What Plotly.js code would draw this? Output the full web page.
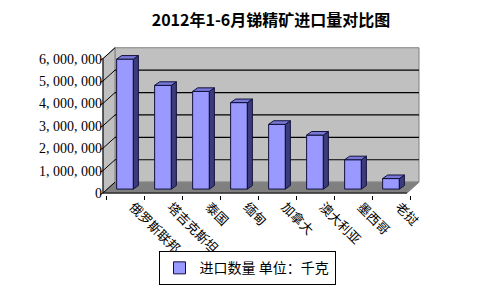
<!DOCTYPE html>
<html>
<head>
<meta charset="utf-8">
<script src="https://cdn.plot.ly/plotly-3.0.1.min.js"></script>
<style>html,body{margin:0;padding:0;background:#fff;}#chart{width:498px;height:297px;}</style>
</head>
<body>
<div id="chart"></div>
<script>
// ---- data ----
const categories = ['俄罗斯联邦','塔吉克斯坦','泰国','缅甸','加拿大','澳大利亚','墨西哥','老挝'];
const importQty = [5800000, 4630000, 4360000, 3860000, 2890000, 2410000, 1310000, 470000];
const seriesName = '进口数量 单位：千克';
const yTickVals = [0, 1000000, 2000000, 3000000, 4000000, 5000000, 6000000];
const yTickText = ['0', '1, 000, 000', '2, 000, 000', '3, 000, 000', '4, 000, 000', '5, 000, 000', '6, 000, 000'];
const chartTitle = '2012年1-6月锑精矿进口量对比图';

// ---- geometry (pseudo 3D in axis units) ----
const PXX = 38, PXY = 22.7 / 1e6;           // px per category, px per unit
const FX = -0.5 - 3 / PXX;                   // front-left x
const FR = FX + categories.length;           // front-right x
const FY = -4 / PXY;                         // front floor level
const DX = 12 / PXX, DY = 11 / PXY;          // wall depth
const BX = FX + DX, BR = FR + DX, BY = FY + DY;
const TOP = yTickVals[yTickVals.length - 1];
const BW = 0.44, SX = 5 / PXX, SY = 3.6 / PXY;

const shapes = [];
const P = (pts) => 'M' + pts.map(p => p[0] + ',' + p[1]).join(' L') + ' Z';
// back wall
shapes.push({type:'path', xref:'x', yref:'y', layer:'below', path:P([[BX,BY],[BR,BY],[BR,BY+TOP],[BX,BY+TOP]]), fillcolor:'#C0C0C0', line:{color:'#808080', width:1}});
// left wall
shapes.push({type:'path', xref:'x', yref:'y', layer:'below', path:P([[FX,FY],[FX,FY+TOP],[BX,BY+TOP],[BX,BY]]), fillcolor:'#C0C0C0', line:{color:'#808080', width:1}});
// floor
shapes.push({type:'path', xref:'x', yref:'y', layer:'below', path:P([[FX,FY],[FR,FY],[BR,BY],[BX,BY]]), fillcolor:'#808080', line:{color:'#808080', width:1}});
// gridlines
yTickVals.forEach((v, k) => {
  if (k > 0 && k < yTickVals.length - 1) {
    shapes.push({type:'line', xref:'x', yref:'y', layer:'below', x0:BX, x1:BR, y0:BY+v, y1:BY+v, line:{color:'#000', width:1.2}});
  }
  shapes.push({type:'line', xref:'x', yref:'y', layer:'below', x0:FX, x1:BX, y0:FY+v, y1:BY+v, line:{color:'#000', width:1}});
  shapes.push({type:'line', xref:'x', yref:'y', layer:'below', x0:FX-4/PXX, x1:FX, y0:FY+v-2/PXY, y1:FY+v, line:{color:'#000', width:1}});
});
// front axis and front floor edge
shapes.push({type:'line', xref:'x', yref:'y', layer:'above', x0:FX, x1:FX, y0:FY, y1:FY+TOP, line:{color:'#000', width:1}});
shapes.push({type:'line', xref:'x', yref:'y', layer:'above', x0:FX, x1:FR, y0:FY, y1:FY, line:{color:'#000', width:1}});
// bar sides and tops
importQty.forEach((v, i) => {
  const r = i + BW / 2, l = i - BW / 2;
  shapes.push({type:'path', xref:'x', yref:'y', layer:'above', path:P([[r,0],[r,v],[r+SX,v+SY],[r+SX,SY]]), fillcolor:'#3C3C7A', line:{color:'#10103a', width:1}});
  shapes.push({type:'path', xref:'x', yref:'y', layer:'above', path:P([[l,v],[r,v],[r+SX,v+SY],[l+SX,v+SY]]), fillcolor:'#7878D8', line:{color:'#10103a', width:1}});
});

const trace = {
  type: 'bar',
  x: categories.map((c, i) => i),
  y: importQty,
  name: seriesName,
  width: BW,
  marker: {color: '#9999FF', line: {color: '#10103a', width: 1}},
  showlegend: true,
  hoverinfo: 'none'
};

const L = 100, R = 424, T = 44, B = 197;
const layout = {
  width: 498, height: 297,
  margin: {l: L, r: 498 - R, t: T, b: 297 - B, pad: 0},
  paper_bgcolor: '#fff', plot_bgcolor: 'rgba(0,0,0,0)',
  title: {text: '<b>' + chartTitle + '</b>', x: 271/498, xanchor: 'center', y: 1 - 20/297, yanchor: 'middle',
          font: {family: '"Noto Sans CJK SC", sans-serif', size: 16, color: '#000'}},
  xaxis: {
    range: [FX - 3/PXX, FX - 3/PXX + (R - L) / PXX], fixedrange: true,
    tickvals: categories.map((c, i) => i), ticktext: categories, tickangle: 45,
    ticks: '', showgrid: false, zeroline: false, showline: false,
    ticklabelshift: 8, ticklabelstandoff: 1,
    tickfont: {family: '"Noto Sans CJK SC", sans-serif', size: 13, color: '#000'},
    minor: {tick0: 0.5, dtick: 1, ticks: 'outside', ticklen: 4, tickcolor: '#000', showgrid: false}
  },
  yaxis: {
    range: [-(B - 191) / (22.7) * 1e6, (191 - T) / 22.7 * 1e6], fixedrange: true,
    tickvals: yTickVals, ticktext: yTickText, ticks: '', showgrid: false, zeroline: false, showline: false,
    ticklabelshift: 4, ticklabelstandoff: -3,
    tickfont: {family: '"Liberation Serif", serif', size: 14, color: '#000'}
  },
  shapes: shapes,
  showlegend: true,
  legend: {orientation: 'h', x: (247 - L) / (R - L), xanchor: 'center', y: -(254 - B) / (B - T), yanchor: 'top',
           bordercolor: '#000', borderwidth: 1, bgcolor: '#fff',
           font: {family: '"Noto Sans CJK SC", sans-serif', size: 14, color: '#000'}},
  bargap: 0
};

Plotly.newPlot('chart', [trace], layout, {staticPlot: true, displayModeBar: false});
</script>
</body>
</html>
